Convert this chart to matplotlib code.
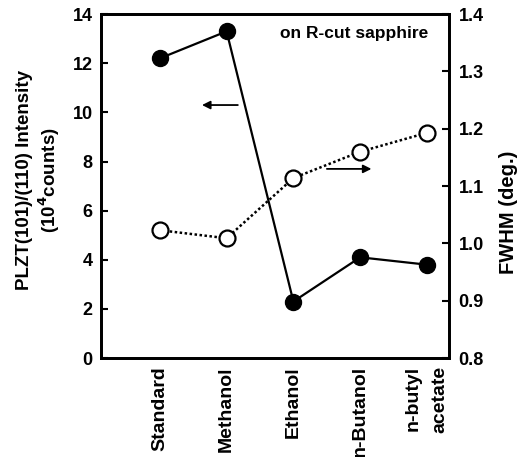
import matplotlib.pyplot as plt
from matplotlib.transforms import ScaledTranslation

plt.rcParams['font.family'] = ['Liberation Sans', 'DejaVu Sans']
plt.rcParams['font.weight'] = 'bold'

# --- data ---
solvents = ["Standard", "Methanol", "Ethanol", "n-Butanol", "n-butyl\nacetate"]
intensity = [12.2, 13.3, 2.3, 4.1, 3.8]          # 10^4 counts
fwhm = [1.023, 1.009, 1.114, 1.160, 1.193]       # deg.

x = list(range(len(solvents)))

fig = plt.figure(figsize=(5.3, 4.57), dpi=100)
ax = fig.add_axes([0.1906, 0.2166, 0.6566, 0.7524])
ax2 = ax.twinx()

ax.plot(x, intensity, color="black", lw=1.6, marker="o", ms=11.5,
        mfc="black", mec="black", zorder=3)
ax2.plot(x, fwhm, color="black", lw=1.8, ls=(0, (1, 1)), marker="o", ms=11.5,
         mfc="white", mec="black", mew=1.6, zorder=3)

ax.set_xlim(-0.88, 4.33)
ax.set_ylim(0, 14)
ax.set_yticks(range(0, 15, 2))
ax2.set_ylim(0.8, 1.4)
ax2.set_yticks([0.8, 0.9, 1.0, 1.1, 1.2, 1.3, 1.4])
ax2.set_yticklabels(["0.8", "0.9", "1.0", "1.1", "1.2", "1.3", "1.4"])

ax.set_xticks(x)
ax.set_xticklabels(solvents, rotation=90, fontsize=14, fontweight="bold",
                   va="top", ha="center", multialignment="right",
                   linespacing=1.75)
# two-line label: block sits a little right of its tick
last = ax.get_xticklabels()[-1]
last.set_transform(last.get_transform() + ScaledTranslation(7 / 100, 0, fig.dpi_scale_trans))

ax.tick_params(axis="x", length=0, pad=6)
ax.tick_params(axis="y", direction="in", length=5, width=1.5,
               labelsize=13, pad=6)
ax2.tick_params(axis="y", direction="in", length=5, width=1.5,
                labelsize=13, pad=7)

for a in (ax, ax2):
    for s in a.spines.values():
        s.set_linewidth(2)

ax.set_ylabel("PLZT(101)/(110) Intensity\n(10$^4$counts)", fontsize=13.5,
              fontweight="bold")
ax.yaxis.set_label_coords(-0.112, 0.517)
ax2.set_ylabel("FWHM (deg.)", fontsize=14.5, fontweight="bold")
ax2.yaxis.set_label_coords(1.145, 0.424)

ax.text(0.94, 0.945, "on R-cut sapphire", transform=ax.transAxes,
        ha="right", va="center", fontsize=12.5, fontweight="bold")

# arrows pointing to the relevant axis
ax.annotate("", xy=(0.59, 10.3), xytext=(1.21, 10.3),
            arrowprops=dict(arrowstyle="-|>", color="black", lw=1.3,
                            mutation_scale=12))
ax2.annotate("", xy=(3.21, 1.13), xytext=(2.46, 1.13),
             arrowprops=dict(arrowstyle="-|>", color="black", lw=1.3,
                             mutation_scale=12))

plt.savefig("out.png", dpi=100)
plt.close()
